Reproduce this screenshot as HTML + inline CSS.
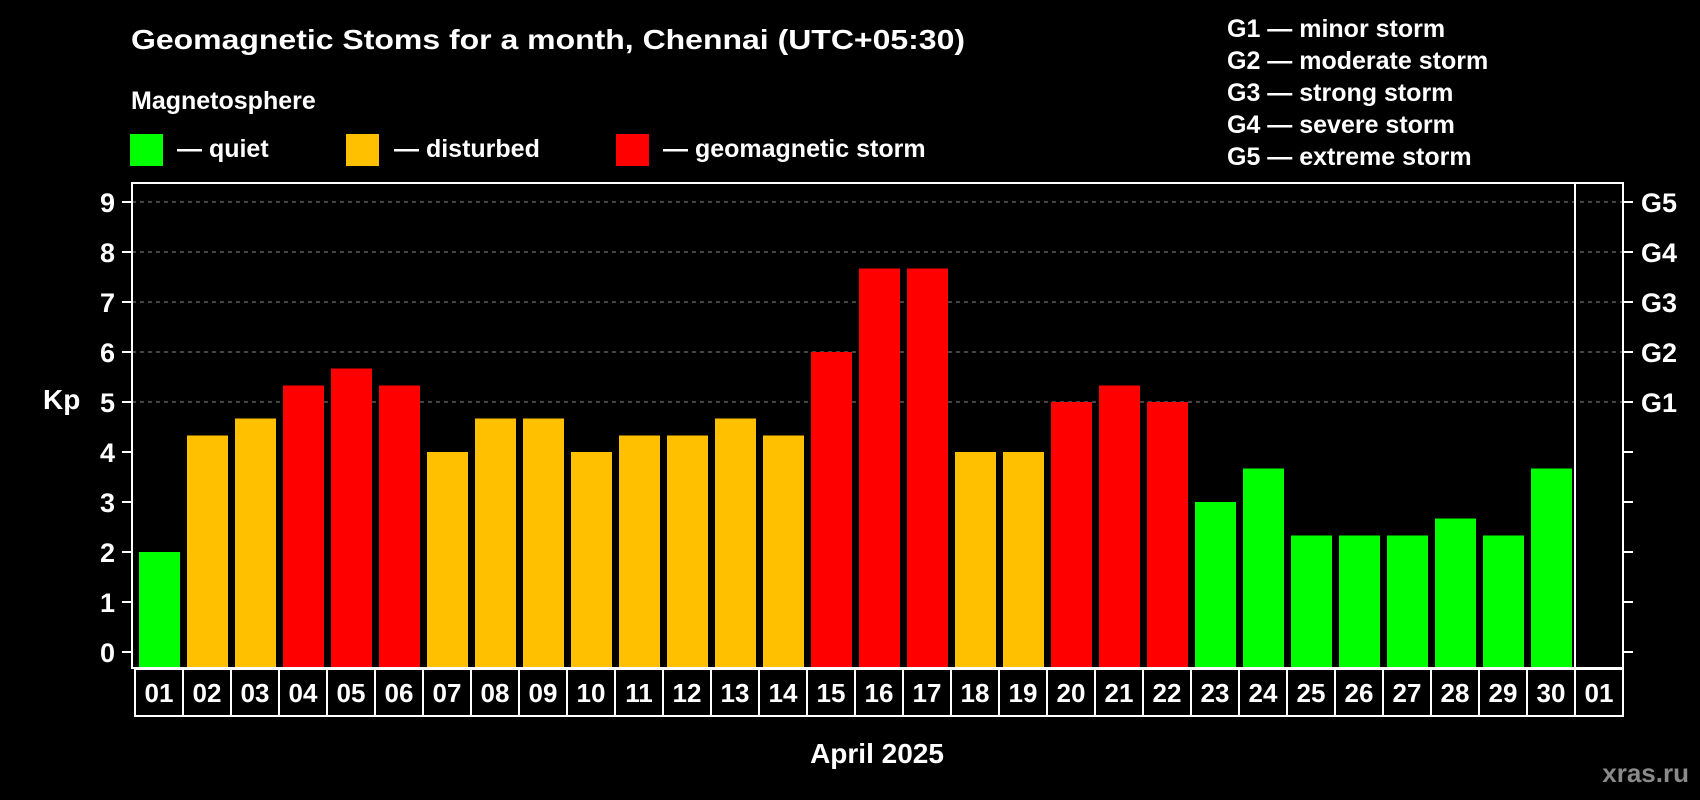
<!DOCTYPE html>
<html><head><meta charset="utf-8"><style>
html,body{margin:0;padding:0;background:#000;width:1700px;height:800px;overflow:hidden}
svg text{font-family:"Liberation Sans",Arial,sans-serif;font-weight:bold;fill:#fff}
</style></head><body>
<svg id="chart" width="1700" height="800" xmlns="http://www.w3.org/2000/svg">
<rect x="0" y="0" width="1700" height="800" fill="#000"/>
<text x="131" y="49" font-size="28" textLength="834" lengthAdjust="spacingAndGlyphs">Geomagnetic Stoms for a month, Chennai (UTC+05:30)</text>
<text x="131" y="109" font-size="25">Magnetosphere</text>
<g>
<rect x="130" y="134" width="33" height="32" fill="#00ff00"/>
<text x="177" y="157" font-size="25">— quiet</text></g>
<g>
<rect x="346" y="134" width="33" height="32" fill="#ffc000"/>
<text x="394" y="157" font-size="25">— disturbed</text></g>
<g>
<rect x="616" y="134" width="33" height="32" fill="#ff0000"/>
<text x="663" y="157" font-size="25">— geomagnetic storm</text></g>
<g font-size="25">
<text x="1227" y="37">G1 — minor storm</text>
<text x="1227" y="69">G2 — moderate storm</text>
<text x="1227" y="101">G3 — strong storm</text>
<text x="1227" y="133">G4 — severe storm</text>
<text x="1227" y="165">G5 — extreme storm</text>
</g>
<text x="43" y="409" font-size="28">Kp</text>
<text x="877" y="763" font-size="28" text-anchor="middle">April 2025</text>
<text x="1689" y="782" font-size="26" text-anchor="end" style="fill:#8a8a8a">xras.ru</text>
<g id="grid"></g><g id="bars"></g><g id="axes"></g>
</svg>
<script>
const days=["01","02","03","04","05","06","07","08","09","10","11","12","13","14","15","16","17","18","19","20","21","22","23","24","25","26","27","28","29","30","01"];
const kpValues=[2,4.33,4.67,5.33,5.67,5.33,4,4.67,4.67,4,4.33,4.33,4.67,4.33,6,7.67,7.67,4,4,5,5.33,5,3,3.67,2.33,2.33,2.33,2.67,2.33,3.67];
const yTicks=[0,1,2,3,4,5,6,7,8,9];
const gLabels=["G1","G2","G3","G4","G5"];
const gLevels=[5,6,7,8,9];
const NS="http://www.w3.org/2000/svg";
const X0=135,PITCH=48,Y0=652,UNIT=50,TOP=183,BOT=668,RIGHT=1623;
const xs=i=>X0+i*PITCH;
const ys=v=>Y0-v*UNIT;
function mk(tag,attrs,parent){const e=document.createElementNS(NS,tag);for(const k in attrs)e.setAttribute(k,attrs[k]);parent.appendChild(e);return e;}
const grid=document.getElementById('grid'),bars=document.getElementById('bars'),axes=document.getElementById('axes');
yTicks.forEach(v=>{
 if(v>=5){const l=mk('line',{x1:132,x2:RIGHT,y1:ys(v),y2:ys(v),stroke:'#888','stroke-width':1,'stroke-dasharray':'4,4'},grid);
 
 }
 const t=mk('line',{x1:122,x2:131,y1:ys(v),y2:ys(v),stroke:'#fff','stroke-width':2},axes);
 
 
 const lb=mk('text',{x:115,y:ys(v)+10,'font-size':27,'text-anchor':'end'},axes);lb.textContent=v;
 
 
 const rt=mk('line',{x1:RIGHT,x2:1633,y1:ys(v),y2:ys(v),stroke:'#fff','stroke-width':2},axes);
 
 
});
gLabels.forEach((g,i)=>{const t=mk('text',{x:1641,y:ys(gLevels[i])+10,'font-size':27},axes);t.textContent=g;
 
 });
kpValues.forEach((v,i)=>{
 const c=v>=5?'#ff0000':(v>=4?'#ffc000':'#00ff00');
 const r=mk('rect',{x:xs(i)+4,y:ys(v),width:41,height:BOT-ys(v)-1,fill:c},bars);
 
 
});
const fr=mk('rect',{x:132,y:TOP,width:RIGHT-132,height:BOT-TOP,fill:'none',stroke:'#fff','stroke-width':2},axes);


const vl=mk('line',{x1:xs(30),x2:xs(30),y1:TOP,y2:BOT,stroke:'#fff','stroke-width':2},axes);


days.forEach((d,i)=>{
 const b=mk('rect',{x:xs(i),y:BOT+1,width:PITCH,height:47,fill:'none',stroke:'#fff','stroke-width':2},axes);
 
 
 const t=mk('text',{x:xs(i)+PITCH/2,y:BOT+34,'font-size':26,'text-anchor':'middle'},axes);t.textContent=d;
 
 
});
</script>
</body></html>
